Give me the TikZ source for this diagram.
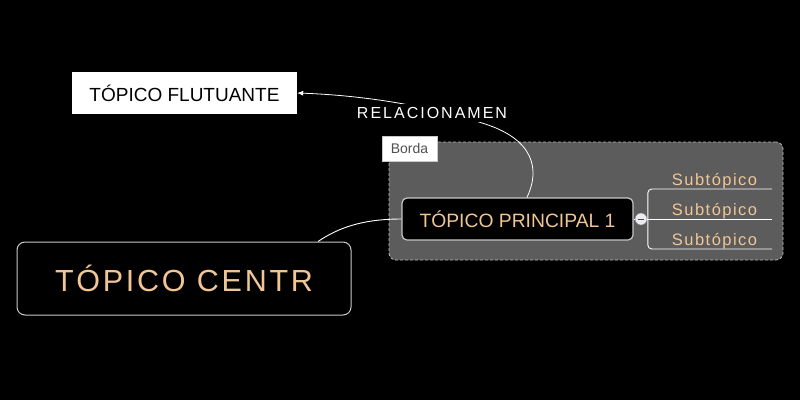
\documentclass[tikz,border=0pt]{standalone}
\usepackage{fontspec}
\setmainfont{Liberation Sans}
\usetikzlibrary{arrows.meta}
\definecolor{peach}{RGB}{240,198,150}
\definecolor{bordagray}{RGB}{92,92,92}
\definecolor{dashgray}{RGB}{185,185,185}
\definecolor{boxline}{RGB}{200,200,200}
\tikzset{
  floattopic/.style={draw=none, fill=white, text=black, minimum width=225pt, minimum height=42pt, inner sep=0pt,
     font=\fontsize{19}{22}\selectfont},
  maintopic/.style={draw=boxline, line width=1.2pt, fill=black, rounded corners=5pt, text=peach,
     minimum width=231pt, minimum height=42pt, inner sep=0pt, font=\fontsize{19.3}{22}\selectfont},
  centraltopic/.style={draw=boxline, line width=1pt, fill=black, rounded corners=8pt, text=peach,
     minimum width=334pt, minimum height=73pt, inner sep=0pt,
     font=\fontsize{30.5}{34}\selectfont\addfontfeatures{LetterSpace=9}},
  boundary/.style={draw=dashgray, dashed, dash pattern=on 3pt off 2pt, line width=0.8pt, fill=bordagray,
     rounded corners=7pt, minimum width=394pt, minimum height=118pt, inner sep=0pt},
  bordalabel/.style={draw=boxline, line width=0.8pt, fill=white, text={rgb,255:red,80;green,80;blue,80},
     minimum width=55pt, minimum height=25pt, inner sep=0pt, font=\fontsize{14}{16}\selectfont},
  subtopic/.style={text=peach, minimum width=124pt, inner xsep=0pt, inner ysep=0pt, anchor=south,
     font=\fontsize{16.5}{18}\selectfont\addfontfeatures{LetterSpace=9}},
  rellabel/.style={fill=black, text=white, inner xsep=3pt, inner ysep=3pt,
     font=\fontsize{16}{18}\selectfont\addfontfeatures{LetterSpace=12.5}},
  wire/.style={draw=white, line width=0.9pt},
  toggle/.style={circle, draw=gray, fill={rgb,255:red,235;green,235;blue,240}, minimum size=12pt, inner sep=0pt}
}
\begin{document}
\begin{tikzpicture}[x=1pt,y=-1pt]
\fill[black] (0,0) rectangle (800,400);
\useasboundingbox (0,0) rectangle (800,400);

% boundary
\node[boundary] (border) at (586,201) {};
\node[bordalabel] (borda) at (409.5,148.5) {Borda};

% nodes
\node[floattopic] (float) at (184.5,93) {TÓPICO FLUTUANTE};
\node[maintopic] (main) at (517.5,219) {TÓPICO PRINCIPAL 1};
\node[centraltopic] (central) at (184,278.5) {TÓPICO CENTR};

% central -> main
\draw[wire] ([xshift=134pt]central.north) .. controls (338,228) and (362,219) .. (main.west);

% toggle and subtopics
\node[toggle] (tog) at (641,219) {};
\draw[gray!60!black, line width=1pt] ([xshift=-3pt]tog.center) -- ([xshift=3pt]tog.center);
\node[subtopic] (sub1) at (710,189) {\hspace*{9pt}Subtópico};
\node[subtopic] (sub2) at (710,219) {\hspace*{9pt}Subtópico};
\node[subtopic] (sub3) at (710,249) {\hspace*{9pt}Subtópico};
\draw[wire] (main.east) -- (tog.west);
\draw[wire] (tog.east) -- (sub2.south east);
\draw[wire, rounded corners=4pt] (sub1.south east) -- (sub1.south west) -- (sub3.south west) -- (sub3.south east);

% relationship
\coordinate (bend) at (482,123);
\draw[wire, line width=0.8pt, -{Latex[length=6pt,width=5pt]}] ([xshift=9.5pt]main.north)
   .. controls (540,170) and (535,139) .. (bend)
   .. controls (445,111) and (380,96) .. (float.east);
\node[rellabel] (rel) at (432,113) {RELACIONAMEN};
\end{tikzpicture}
\end{document}
